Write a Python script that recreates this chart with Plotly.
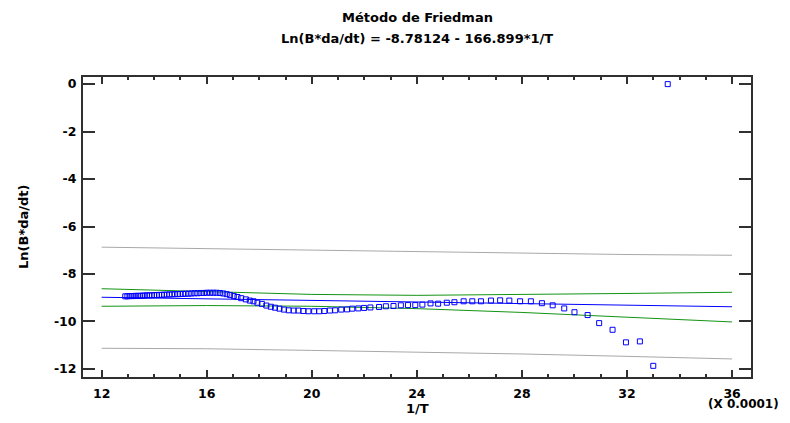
import plotly.graph_objects as go

# ---------------- data ----------------
obs_x = [12.90, 12.98, 13.06, 13.14, 13.22, 13.30, 13.39, 13.47, 13.56, 13.64,
         13.73, 13.82, 13.91, 14.00, 14.10, 14.19, 14.29, 14.38, 14.48, 14.58,
         14.68, 14.78, 14.89, 14.99, 15.10, 15.20, 15.31, 15.42, 15.54, 15.65,
         15.77, 15.89, 16.01, 16.13, 16.25, 16.37, 16.50, 16.63, 16.76, 16.89,
         17.03, 17.17, 17.31,
         17.49, 17.64, 17.78, 17.93, 18.10, 18.27, 18.44, 18.60, 18.77, 18.94,
         19.12, 19.31, 19.49, 19.68, 19.87, 20.09, 20.28, 20.48, 20.69, 20.89,
         21.12, 21.34, 21.54, 21.77, 21.99, 22.23,
         22.56, 22.82, 23.11, 23.39, 23.66, 23.94, 24.21, 24.52, 24.81, 25.14,
         25.43, 25.78, 26.11, 26.44, 26.82, 27.17, 27.52,
         27.93, 28.34, 28.76, 29.17, 29.61, 30.00, 30.50, 30.94, 31.45, 31.96,
         32.49, 33.00, 33.55]
obs_y = [-8.94, -8.94, -8.93, -8.93, -8.93, -8.92, -8.92, -8.92, -8.91, -8.91,
         -8.90, -8.90, -8.90, -8.89, -8.89, -8.88, -8.88, -8.87, -8.87, -8.86,
         -8.86, -8.85, -8.85, -8.84, -8.84, -8.83, -8.83, -8.82, -8.81, -8.81,
         -8.80, -8.80, -8.79, -8.79, -8.79, -8.79, -8.80, -8.82, -8.85, -8.89,
         -8.93, -8.97, -9.02,
         -9.07, -9.12, -9.15, -9.21, -9.26, -9.33, -9.38, -9.42, -9.46, -9.50,
         -9.53, -9.54, -9.54, -9.56, -9.57, -9.57, -9.57, -9.56, -9.54, -9.53,
         -9.50, -9.49, -9.46, -9.45, -9.43, -9.41,
         -9.39, -9.36, -9.35, -9.32, -9.31, -9.31, -9.29, -9.24, -9.25, -9.21,
         -9.19, -9.15, -9.15, -9.15, -9.12, -9.11, -9.12,
         -9.15, -9.15, -9.23, -9.32, -9.45, -9.61, -9.73, -10.07, -10.35, -10.88,
         -10.84, -11.87, 0.0]

fit_x = [12, 36]
fit_y = [-8.98, -9.38]

band_x = [12, 16, 20, 24, 28, 32, 36]
conf_upper = [-8.62, -8.75, -8.86, -8.90, -8.87, -8.82, -8.77]
conf_lower = [-9.36, -9.33, -9.36, -9.46, -9.62, -9.82, -10.02]
pred_upper = [-6.87, -6.93, -6.99, -7.07, -7.13, -7.18, -7.21]
pred_lower = [-11.13, -11.15, -11.22, -11.29, -11.37, -11.47, -11.58]

x_tick_vals = [12, 16, 20, 24, 28, 32, 36]
x_tick_text = ['12', '16', '20', '24', '28', '32', '36']
y_tick_vals = [0, -2, -4, -6, -8, -10, -12]
y_tick_text = ['0', '-2', '-4', '-6', '-8', '-10', '-12']

title_line1 = 'Método de Friedman'
title_line2 = 'Ln(B*da/dt) = -8.78124 - 166.899*1/T'
x_title = '1/T'
y_title = 'Ln(B*da/dt)'
x_scale_note = '(X 0.0001)'

# ---------------- figure ----------------
FONT = 'DejaVu Sans'
AXC = '#303030'

fig = go.Figure()
for yy in (pred_upper, pred_lower):
    fig.add_trace(go.Scatter(x=band_x, y=yy, mode='lines',
                             line=dict(color='#a8a8a8', width=1), hoverinfo='skip'))
for yy in (conf_upper, conf_lower):
    fig.add_trace(go.Scatter(x=band_x, y=yy, mode='lines',
                             line=dict(color='#139313', width=1), hoverinfo='skip'))
fig.add_trace(go.Scatter(x=fit_x, y=fit_y, mode='lines',
                         line=dict(color='#0000ff', width=1)))
fig.add_trace(go.Scatter(x=obs_x, y=obs_y, mode='markers',
                         marker=dict(symbol='square-open', size=5, color='#0000ff',
                                     line=dict(width=1, color='#0000ff'))))

tickfont = dict(family=FONT, size=12.5, color='black', weight='bold')

# The page body has an 8px margin; keep the whole page inside the 790x423
# window (no scrollbars): figure 774x407 placed at (8, 8).
fig.update_layout(
    width=774, height=407,
    margin=dict(l=75, r=31, t=69, b=38, autoexpand=False),
    plot_bgcolor='white', paper_bgcolor='white',
    showlegend=False,
    font=dict(family=FONT, size=12.5, color='black'),
    xaxis=dict(range=[11.29, 36.72], tickmode='array', tickvals=x_tick_vals,
               ticktext=x_tick_text, ticks='inside', ticklen=7, tickwidth=2,
               tickcolor=AXC, showline=True, linecolor=AXC, linewidth=2,
               mirror='ticks', showgrid=False, zeroline=False,
               tickfont=tickfont, ticklabelstandoff=4,
               minor=dict(dtick=1, tick0=0, ticks='inside', ticklen=3,
                          tickwidth=1.5, tickcolor=AXC, showgrid=False)),
    yaxis=dict(range=[-12.34, 0.3], tickmode='array', tickvals=y_tick_vals,
               ticktext=y_tick_text, ticks='inside', ticklen=12, tickwidth=2,
               tickcolor=AXC, showline=True, linecolor=AXC, linewidth=2,
               mirror='ticks', showgrid=False, zeroline=False,
               tickfont=tickfont, ticklabelstandoff=2),
)

def ann(text, x, y, xanchor='center', yanchor='middle', angle=0, size=13):
    fig.add_annotation(text=text, x=x, y=y, xref='paper', yref='paper',
                       xanchor=xanchor, yanchor=yanchor, textangle=angle,
                       showarrow=False,
                       font=dict(family=FONT, size=size, color='black', weight='bold'))

# positions below are in page pixels of the reference, plot area 83..751 x 77..377
ann(title_line1, 0.5, (377 - 18) / 300)
ann(title_line2, 0.5, (377 - 38.5) / 300)
ann(x_title, 0.5, (377 - 408) / 300)
ann(x_scale_note, (781 - 83) / 668, (377 - 404) / 300, xanchor='right', size=12)
ann(y_title, (23 - 83) / 668, 0.5, angle=-90)

fig.write_html('out.html')
